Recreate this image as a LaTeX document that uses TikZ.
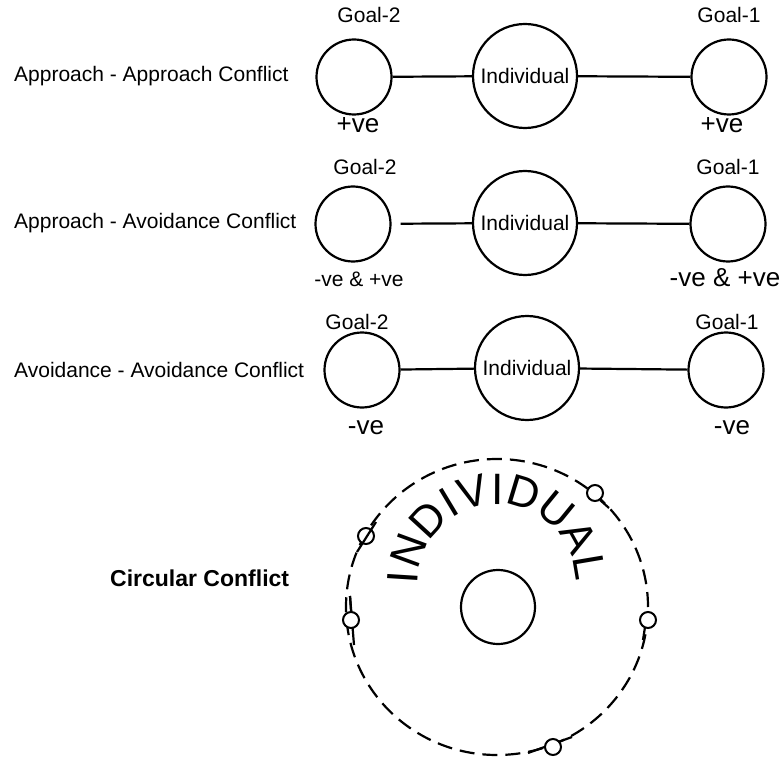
\documentclass[tikz,border=0pt]{standalone}
\usepackage{fontspec}
\setmainfont{Liberation Sans}
\begin{document}
\begin{tikzpicture}[x=1pt,y=-1pt,
  ln/.style={line width=2.2pt},
  goal/.style={circle,draw,line width=2.2pt,minimum size=75pt,inner sep=0pt},
  indiv/.style={circle,draw,line width=2.2pt,minimum size=104pt,inner sep=0pt,font=\fontsize{21}{24}\selectfont},
  txt/.style={inner sep=0pt,font=\fontsize{21}{24}\selectfont},
  sign/.style={inner sep=0pt,font=\fontsize{26}{29}\selectfont},
  big/.style={inner sep=0pt,font=\fontsize{44}{48}\selectfont},
  tiny/.style={circle,draw,line width=2pt,fill=white,minimum size=16pt,inner sep=0pt}]
\useasboundingbox (0,0) rectangle (784,759);
% Row 1
\node[txt,anchor=west] (t1) at (14,76) {Approach - Approach Conflict};
\node[goal] (g2a) at (354,77) {};
\node[indiv] (ia) at (525,76) {Individual};
\node[goal] (g1a) at (729,77) {};
\node[txt] (l2a) at (369,15) {Goal-2};
\node[txt] (l1a) at (729,15) {Goal-1};
\node[sign] (s2a) at (358,125) {+ve};
\node[sign] (s1a) at (722,125) {+ve};
\draw[ln] (g2a) -- (ia);
\draw[ln] (ia) -- (g1a);
% Row 2
\node[txt,anchor=west] (t2) at (14,223) {Approach - Avoidance Conflict};
\node[goal] (g2b) at (353,224) {};
\node[indiv] (ib) at (525,223) {Individual};
\node[goal] (g1b) at (728,224) {};
\node[txt] (l2b) at (365,167) {Goal-2};
\node[txt] (l1b) at (728,167) {Goal-1};
\node[txt] (s2b) at (359,279) {-ve \& +ve};
\node[sign] (s1b) at (725,278) {-ve \& +ve};
\draw[ln,shorten <=9pt] (g2b) -- (ib);
\draw[ln] (ib) -- (g1b);
% Row 3
\node[txt,anchor=west] (t3) at (14,370) {Avoidance - Avoidance Conflict};
\node[goal] (g2c) at (362,370) {};
\node[indiv] (ic) at (527,368) {Individual};
\node[goal] (g1c) at (726,370) {};
\node[txt] (l2c) at (357,322) {Goal-2};
\node[txt] (l1c) at (727,322) {Goal-1};
\node[sign] (s2c) at (366,428) {-ve};
\node[sign] (s1c) at (732,428) {-ve};
\draw[ln] (g2c) -- (ic);
\draw[ln] (ic) -- (g1c);
% Circular conflict
\node[inner sep=0pt,anchor=west,font=\fontsize{23}{26}\selectfont\bfseries] (t4) at (110,578) {Circular Conflict};
\coordinate (cc) at (497,607);
\draw[ln,dash pattern=on 15pt off 8pt] (cc) ellipse [x radius=151pt,y radius=148pt];
\node[circle,draw,line width=2.2pt,minimum size=74pt,inner sep=0pt] (inner) at (498,607) {};
% stubs
\coordinate (a1) at (600,500); \coordinate (a2) at (609,508);
\coordinate (b1) at (357,552); \coordinate (b2) at (376,522);
\coordinate (c1) at (350,596); \coordinate (c2) at (354,645);
\coordinate (d1) at (645,627); \coordinate (d2) at (643,640);
\coordinate (e1) at (528,753); \coordinate (e2) at (572,737);
\draw[ln] (a1) -- (a2);
\draw[ln] (c1) -- (c2);
\draw[ln] (d1) -- (d2);
\draw[ln] (e1) -- (e2);
\node[tiny] (o1) at (595,493) {};
\node[tiny] (o2) at (366,536) {};
\node[tiny] (o3) at (351,620) {};
\node[tiny] (o4) at (648,620) {};
\node[tiny] (o5) at (553,747) {};
\draw[ln] (b1) -- (b2);
\draw[ln] (c1) -- (o3.north);
% INDIVIDUAL along arc (centre 497,583, radius 94)
\node[big,rotate=86.4] (w1) at (403.2,577.1) {I};
\node[big,rotate=69.9] (w2) at (408.7,550.7) {N};
\node[big,rotate=47.5] (w3) at (427.7,519.5) {D};
\node[big,rotate=31.0] (w4) at (448.6,502.4) {I};
\node[big,rotate=15.3] (w5) at (472.2,492.3) {V};
\node[big,rotate=-0.3] (w6) at (497.5,489.0) {I};
\node[big,rotate=-16.8] (w7) at (524.2,493.0) {D};
\node[big,rotate=-39.2] (w8) at (556.4,510.2) {U};
\node[big,rotate=-60.9] (w9) at (579.1,537.3) {A};
\node[big,rotate=-80.4] (w10) at (589.7,567.3) {L};
\end{tikzpicture}
\end{document}
